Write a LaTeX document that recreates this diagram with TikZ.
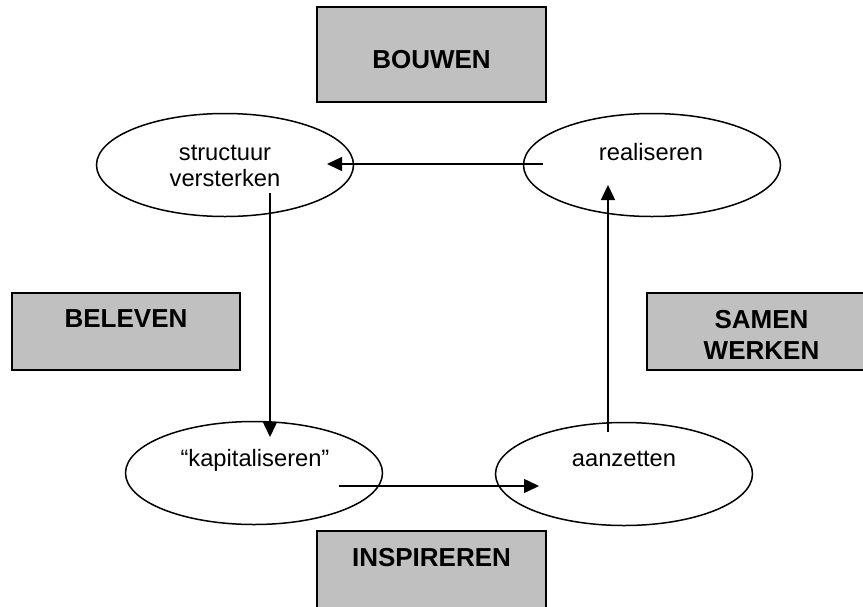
\documentclass[tikz,border=0pt]{standalone}
\usepackage{fontspec}
\setmainfont{Liberation Sans}
\usetikzlibrary{shapes.geometric,arrows.meta}
\definecolor{boxgray}{HTML}{C0C0C0}
\tikzset{
  lbox/.style={draw=black, line width=1.7pt, fill=boxgray, minimum width=229pt, inner sep=0pt},
  oval/.style={draw=black, line width=1.5pt, ellipse, minimum width=257pt, minimum height=103pt, inner sep=0pt},
  btxt/.style={font=\fontsize{26}{31}\selectfont\bfseries, align=center, inner sep=0pt},
  rtxt/.style={font=\fontsize{23.7}{26}\selectfont, align=center, inner sep=0pt},
  flow/.style={line width=1.5pt, -{Triangle[length=15pt,width=14pt]}}
}
\begin{document}
\begin{tikzpicture}[x=1pt,y=-1pt]
\useasboundingbox (0,0) rectangle (863,606);
\clip (0,0) rectangle (863,606);
% boxes
\node[lbox, minimum height=95pt] (bouwenbox) at (431.5,54.5) {};
\node[btxt] (bouwen) at (431.5,60) {BOUWEN};
\node[lbox, minimum height=77pt, minimum width=228pt] (belevenbox) at (126,331.5) {};
\node[btxt] (beleven) at (126,319) {BELEVEN};
\node[lbox, minimum height=77pt] (samenbox) at (761.5,331.5) {};
\node[btxt] (samen) at (761.5,334.5) {SAMEN\\WERKEN};
\node[lbox, minimum height=100pt] (inspbox) at (431.5,581) {};
\node[btxt] (insp) at (431.5,558) {INSPIREREN};
% ellipses
\node[oval] (structuur) at (225,165) {};
\node[rtxt] (structuurt) at (225,165.5) {structuur\\versterken};
\node[oval] (realiseren) at (652,165) {};
\node[rtxt] (realiserent) at (651,152) {realiseren};
\node[oval] (kapital) at (254,473) {};
\node[rtxt] (kapitalt) at (255,460) {“kapitaliseren”};
\node[oval] (aanzetten) at (624,474) {};
\node[rtxt] (aanzettent) at (624,459) {aanzetten};
% arrow end points
\coordinate (a1s) at (543,164);
\coordinate (a1e) at (327,164);
\coordinate (a2s) at (270,193);
\coordinate (a2e) at (270,437);
\coordinate (a3s) at (339,486);
\coordinate (a3e) at (539,486);
\coordinate (a4s) at (608,432);
\coordinate (a4e) at (608,185);
\draw[flow] (a1s) -- (a1e);
\draw[flow] (a2s) -- (a2e);
\draw[flow] (a3s) -- (a3e);
\draw[flow] (a4s) -- (a4e);
\end{tikzpicture}
\end{document}
